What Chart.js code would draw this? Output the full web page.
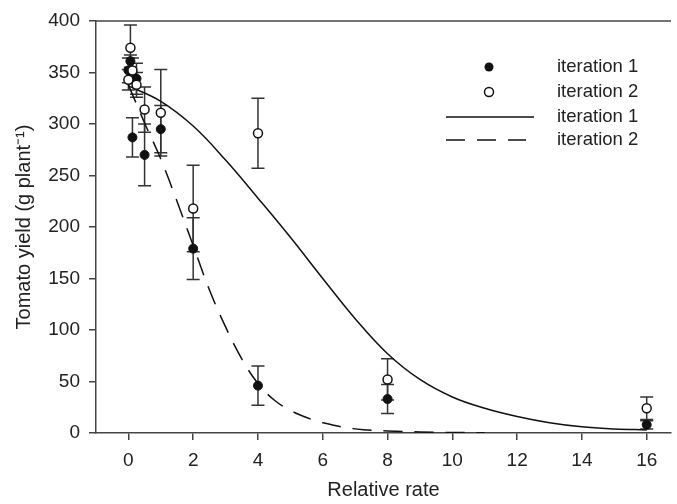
<!DOCTYPE html>
<html>
<head>
<meta charset="utf-8">
<title>Tomato yield vs relative rate</title>
<script src="https://cdn.jsdelivr.net/npm/chart.js@4"></script>
<style>
  html, body { margin: 0; padding: 0; background: #fff; }
  #wrap { width: 677px; height: 504px; }
</style>
</head>
<body>
<div id="wrap"><canvas id="chart"></canvas></div>
<script>
const rates = [0, 0.0625, 0.125, 0.25, 0.5, 1, 2, 4, 8, 16];
const yieldIter1 = [352, 361, 287, 344, 270, 295, 179, 46, 33, 8];
const errIter1 = [12, 6, 19, 15, 30, 23, 30, 19, 14, 4];
const yieldIter2 = [343, 374, 352, 338, 314, 311, 218, 291, 52, 24];
const errIter2 = [10, 22, 12, 12, 22, 42, 42, 34, 20, 11];

// fitted curves
const fitSolidX = [0, 1, 2, 3, 4, 5, 6, 7, 8, 9, 10, 11, 12, 13, 14, 15, 16];
const fitSolidY = [337, 322, 298, 265, 228, 190, 150, 111, 77, 52, 35, 24, 16, 10, 6, 4, 3];
const fitDashX = [0, 0.5, 1, 1.5, 2, 2.5, 3, 3.5, 4, 4.5, 5, 5.5, 6, 7, 8, 9, 10, 11];
const fitDashY = [338, 301, 266, 225, 182, 139, 103, 72, 48, 32, 22, 15, 10, 4, 2, 1, 0.5, 0.3];

const xTicks = [0, 2, 4, 6, 8, 10, 12, 14, 16];
const labels = ['iteration 1', 'iteration 2', 'iteration 1', 'iteration 2'];

const FONT = '"Liberation Sans", Arial, Helvetica, sans-serif';
const INK = '#222';
const AXIS = '#444';

const toPoints = (xs, ys) => xs.map((x, i) => ({ x, y: ys[i] }));

const errorBars = {
  id: 'errorBars',
  beforeDatasetsDraw(chart) {
    const { ctx, scales: { x, y } } = chart;
    ctx.save();
    ctx.strokeStyle = '#333';
    ctx.lineWidth = 1.5;
    chart.data.datasets.forEach((ds) => {
      if (!ds.errors) return;
      ds.data.forEach((pt, i) => {
        const px = x.getPixelForValue(pt.x);
        const top = y.getPixelForValue(pt.y + ds.errors[i]);
        const bot = y.getPixelForValue(Math.max(0, pt.y - ds.errors[i]));
        ctx.beginPath();
        ctx.moveTo(px, top);
        ctx.lineTo(px, bot);
        ctx.moveTo(px - 6.5, top);
        ctx.lineTo(px + 6.5, top);
        ctx.moveTo(px - 6.5, bot);
        ctx.lineTo(px + 6.5, bot);
        ctx.stroke();
      });
    });
    ctx.restore();
  }
};

const frameTop = {
  id: 'frameTop',
  afterDraw(chart) {
    const { ctx, chartArea } = chart;
    ctx.save();
    ctx.strokeStyle = AXIS;
    ctx.lineWidth = 1.5;
    ctx.beginPath();
    ctx.moveTo(chartArea.left, chartArea.top);
    ctx.lineTo(chartArea.right, chartArea.top);
    ctx.stroke();
    ctx.restore();
  }
};

const legendBox = {
  id: 'legendBox',
  afterDraw(chart) {
    const { ctx } = chart;
    const ds = chart.data.datasets;
    const textX = 557;
    const rowY = [67, 92, 117, 140];
    ctx.save();

    // markers
    ctx.lineWidth = 1.5;
    ctx.strokeStyle = '#111';
    ctx.fillStyle = ds[0].backgroundColor;
    ctx.beginPath();
    ctx.arc(489, rowY[0], 4.5, 0, Math.PI * 2);
    ctx.fill();
    ctx.fillStyle = ds[1].backgroundColor;
    ctx.beginPath();
    ctx.arc(489, rowY[1], 4.5, 0, Math.PI * 2);
    ctx.fill();
    ctx.stroke();

    // lines
    ctx.beginPath();
    ctx.moveTo(446, rowY[2]);
    ctx.lineTo(534, rowY[2]);
    ctx.stroke();
    ctx.setLineDash(ds[3].borderDash);
    ctx.beginPath();
    ctx.moveTo(446, rowY[3]);
    ctx.lineTo(526, rowY[3]);
    ctx.stroke();
    ctx.setLineDash([]);

    ctx.font = `18.5px ${FONT}`;
    ctx.fillStyle = INK;
    ctx.textBaseline = 'middle';
    ds.forEach((d, i) => ctx.fillText(d.label, textX, rowY[i]));
    ctx.restore();
  }
};

new Chart(document.getElementById('chart'), {
  type: 'scatter',
  data: {
    datasets: [
      {
        label: labels[0],
        data: toPoints(rates, yieldIter1),
        errors: errIter1,
        backgroundColor: '#111',
        borderColor: '#111',
        pointRadius: 4.5,
        pointBorderWidth: 1,
        order: 1
      },
      {
        label: labels[1],
        data: toPoints(rates, yieldIter2),
        errors: errIter2,
        backgroundColor: '#fff',
        borderColor: '#111',
        pointRadius: 4.5,
        pointBorderWidth: 1.5,
        order: 0
      },
      {
        type: 'line',
        label: labels[2],
        data: toPoints(fitSolidX, fitSolidY),
        borderColor: '#111',
        borderWidth: 1.5,
        pointRadius: 0,
        tension: 0.4,
        fill: false,
        order: 3
      },
      {
        type: 'line',
        label: labels[3],
        data: toPoints(fitDashX, fitDashY),
        borderColor: '#111',
        borderWidth: 1.5,
        borderDash: [19, 12],
        pointRadius: 0,
        tension: 0.4,
        fill: false,
        order: 2
      }
    ]
  },
  options: {
    responsive: true,
    maintainAspectRatio: false,
    animation: false,
    layout: { padding: { top: 21, right: 0, bottom: 0, left: 0 } },
    plugins: {
      legend: { display: false },
      tooltip: { enabled: false }
    },
    scales: {
      x: {
        type: 'linear',
        min: -1,
        max: 16.75,
        afterBuildTicks: (scale) => {
          scale.ticks = xTicks.map((v) => ({ value: v }));
        },
        afterFit: (scale) => {
          scale.height = 71;
        },
        grid: { drawOnChartArea: false, drawTicks: true, tickLength: 7, color: AXIS, lineWidth: 1.5 },
        border: { display: true, color: AXIS, width: 1.5 },
        ticks: { padding: 9, color: INK, maxRotation: 0, font: { size: 19, family: FONT } },
        title: {
          display: true,
          text: 'Relative rate',
          color: INK,
          font: { size: 20, family: FONT },
          padding: { top: 0, bottom: 2 }
        }
      },
      y: {
        min: 0,
        max: 400,
        afterFit: (scale) => {
          scale.width = 96;
        },
        grid: { drawOnChartArea: false, drawTicks: true, tickLength: 7, color: AXIS, lineWidth: 1.5 },
        border: { display: true, color: AXIS, width: 1.5 },
        ticks: { stepSize: 50, padding: 9, color: INK, font: { size: 19, family: FONT } },
        title: {
          display: true,
          text: 'Tomato yield (g plant\u207B\u00B9)',
          color: INK,
          font: { size: 20, family: FONT },
          padding: { top: 12, bottom: 0 }
        }
      }
    }
  },
  plugins: [errorBars, frameTop, legendBox]
});
</script>
</body>
</html>
